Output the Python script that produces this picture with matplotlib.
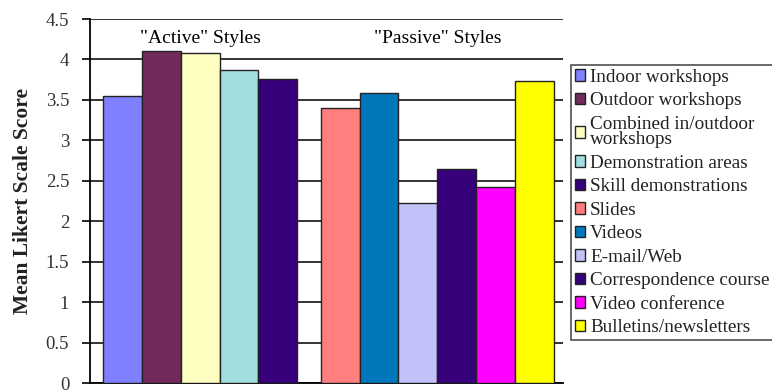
import matplotlib
matplotlib.use("Agg")
import matplotlib.pyplot as plt
from matplotlib.patches import Patch

active_labels = ["Indoor workshops", "Outdoor workshops", "Combined in/outdoor\nworkshops",
                 "Demonstration areas", "Skill demonstrations"]
active_values = [3.55, 4.11, 4.08, 3.87, 3.76]
active_colors = ["#7F7FFF", "#722A5A", "#FFFFC2", "#A2DEE0", "#36007A"]

passive_labels = ["Slides", "Videos", "E-mail/Web", "Correspondence course",
                  "Video conference", "Bulletins/newsletters"]
passive_values = [3.40, 3.58, 2.23, 2.64, 2.42, 3.73]
passive_colors = ["#FF7F7F", "#0077BB", "#C2C2F8", "#36007A", "#FF00FF", "#FFFF00"]

group_titles = ['"Active" Styles', '"Passive" Styles']
yticks = [0, 0.5, 1, 1.5, 2, 2.5, 3, 3.5, 4, 4.5]
ytick_labels = ["0", "0.5", "1", "1.5", "2", "2.5", "3", "3.5", "4", "4.5"]

plt.rcParams['font.family'] = ['Liberation Serif', 'DejaVu Serif']

fig = plt.figure(figsize=(7.72, 3.92), dpi=100)
ax = fig.add_axes([90/772, 9/392, 473/772, 364/392])

gap = 0.6
xa = [i for i in range(len(active_values))]
xp = [len(active_values) + gap + j for j in range(len(passive_values))]

ax.bar(xa, active_values, width=1.0, align='edge', color=active_colors,
       edgecolor='#222222', linewidth=1.0, zorder=3)
ax.bar(xp, passive_values, width=1.0, align='edge', color=passive_colors,
       edgecolor='#222222', linewidth=1.0, zorder=3)

ax.set_xlim(-0.33, 11.83)
ax.set_ylim(0, 4.5)
ax.set_yticks(yticks)
ax.set_yticklabels(ytick_labels, fontsize=13.5, color='#333333')
ax.set_xticks([])
ax.yaxis.grid(True, color='#111111', linewidth=1.2, zorder=0)
ax.set_axisbelow(True)
for s in ['top', 'right']:
    ax.spines[s].set_visible(False)
ax.spines['left'].set_linewidth(1.3)
ax.spines['bottom'].set_linewidth(1.3)
ax.tick_params(axis='y', direction='out', length=6, width=1.2, pad=9)
ax.set_ylabel("Mean Likert Scale Score", fontsize=15.5, fontweight='bold',
              labelpad=9, color='#222222')

mid_a = (xa[0] + xa[-1] + 1) / 2
mid_p = (xp[0] + xp[-1] + 1) / 2
ax.text(mid_a, 4.26, group_titles[0], ha='center', va='center', fontsize=14)
ax.text(mid_p, 4.26, group_titles[1], ha='center', va='center', fontsize=14)

handles = [Patch(facecolor=c, edgecolor='#222222', linewidth=1.0)
           for c in active_colors + passive_colors]
labels = active_labels + passive_labels
leg = fig.legend(handles, labels, loc='upper left',
                 bbox_to_anchor=(571/772, 1 - 65/392),
                 fontsize=13.8, frameon=True, fancybox=False,
                 edgecolor='#222222', handlelength=0.55, handleheight=0.55,
                 handletextpad=0.25, labelspacing=0.34, borderpad=0.2,
                 borderaxespad=0)
leg.get_frame().set_linewidth(1.2)
for t in leg.get_texts():
    t.set_linespacing(0.88)
    t.set_color('#222222')

fig.savefig("out.png", dpi=100)
